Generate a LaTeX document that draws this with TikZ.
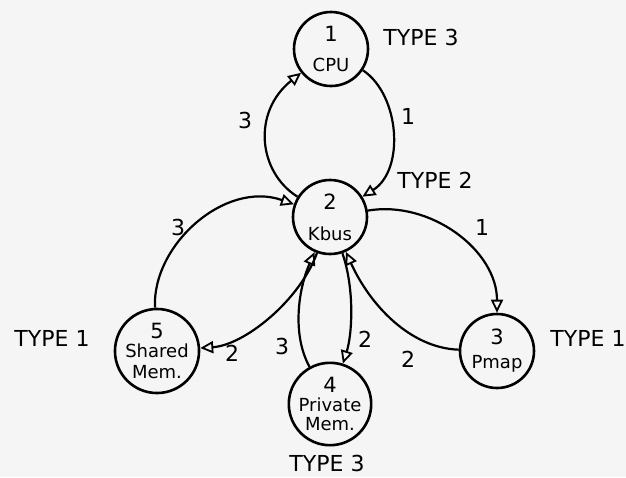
\documentclass[tikz,border=0pt]{standalone}
\usepackage{fontspec}
\setmainfont{DejaVu Sans}
\usetikzlibrary{arrows.meta}
\tikzset{
  unit/.style={circle, draw, line width=2.6pt, minimum size=74pt, inner sep=0pt, align=center,
    font=\fontsize{18}{18}\selectfont},
  arr/.style={line width=2.2pt, -{Triangle[open,length=13pt,width=12pt,line width=1.8pt]}},
  elab/.style={font=\fontsize{22}{24}\selectfont},
  tlab/.style={font=\fontsize{22}{24}\selectfont}
}
\newcommand{\nnum}[1]{{\fontsize{21}{22}\selectfont #1}}
\begin{document}
\begin{tikzpicture}[x=1pt,y=-1pt]
\fill[white!96!black] (0,0) rectangle (626,477);
\useasboundingbox (0,0) rectangle (626,477);

\node[unit] (cpu) at (331,49) {\nnum{1}\\[12pt]CPU};
\node[unit] (kbus) at (330,217) {\nnum{2}\\[13pt]Kbus};
\node[unit] (shm) at (157,351) {\nnum{5}\\[1pt]Shared\\[3pt]Mem.};
\node[unit] (pmem) at (330,404) {\nnum{4}\\[1pt]Private\\[1pt]Mem.};
\node[unit] (pmap) at (497,351) {\nnum{3}\\[6pt]Pmap};

\node[tlab] (t1) at (421,37) {TYPE 3};
\node[tlab] (t2) at (435,180) {TYPE 2};
\node[tlab] (t3) at (52,338) {TYPE 1};
\node[tlab] (t4) at (588,338) {TYPE 1};
\node[tlab] (t5) at (327,463) {TYPE 3};

\draw[arr] (kbus) .. controls (258,172) and (252,112) .. (cpu);
\draw[arr] (cpu) .. controls (400,95) and (405,170) .. (kbus);
\draw[arr] (shm) .. controls (152,245) and (225,180) .. (kbus);
\draw[arr] (kbus) .. controls (300,300) and (245,345) .. (shm);
\draw[arr] (pmem) .. controls (292,335) and (298,290) .. (kbus);
\draw[arr] (kbus) .. controls (355,290) and (352,335) .. (pmem);
\draw[arr] (pmap) .. controls (410,348) and (370,305) .. (kbus);
\draw[arr] (kbus) .. controls (430,200) and (497,250) .. (pmap);

\node[elab] (l1) at (245,120) {3};
\node[elab] (l2) at (408,116) {1};
\node[elab] (l3) at (178,227) {3};
\node[elab] (l4) at (482,227) {1};
\node[elab] (l5) at (232,353) {2};
\node[elab] (l6) at (282,346) {3};
\node[elab] (l7) at (365,339) {2};
\node[elab] (l8) at (408,359) {2};
\end{tikzpicture}
\end{document}
